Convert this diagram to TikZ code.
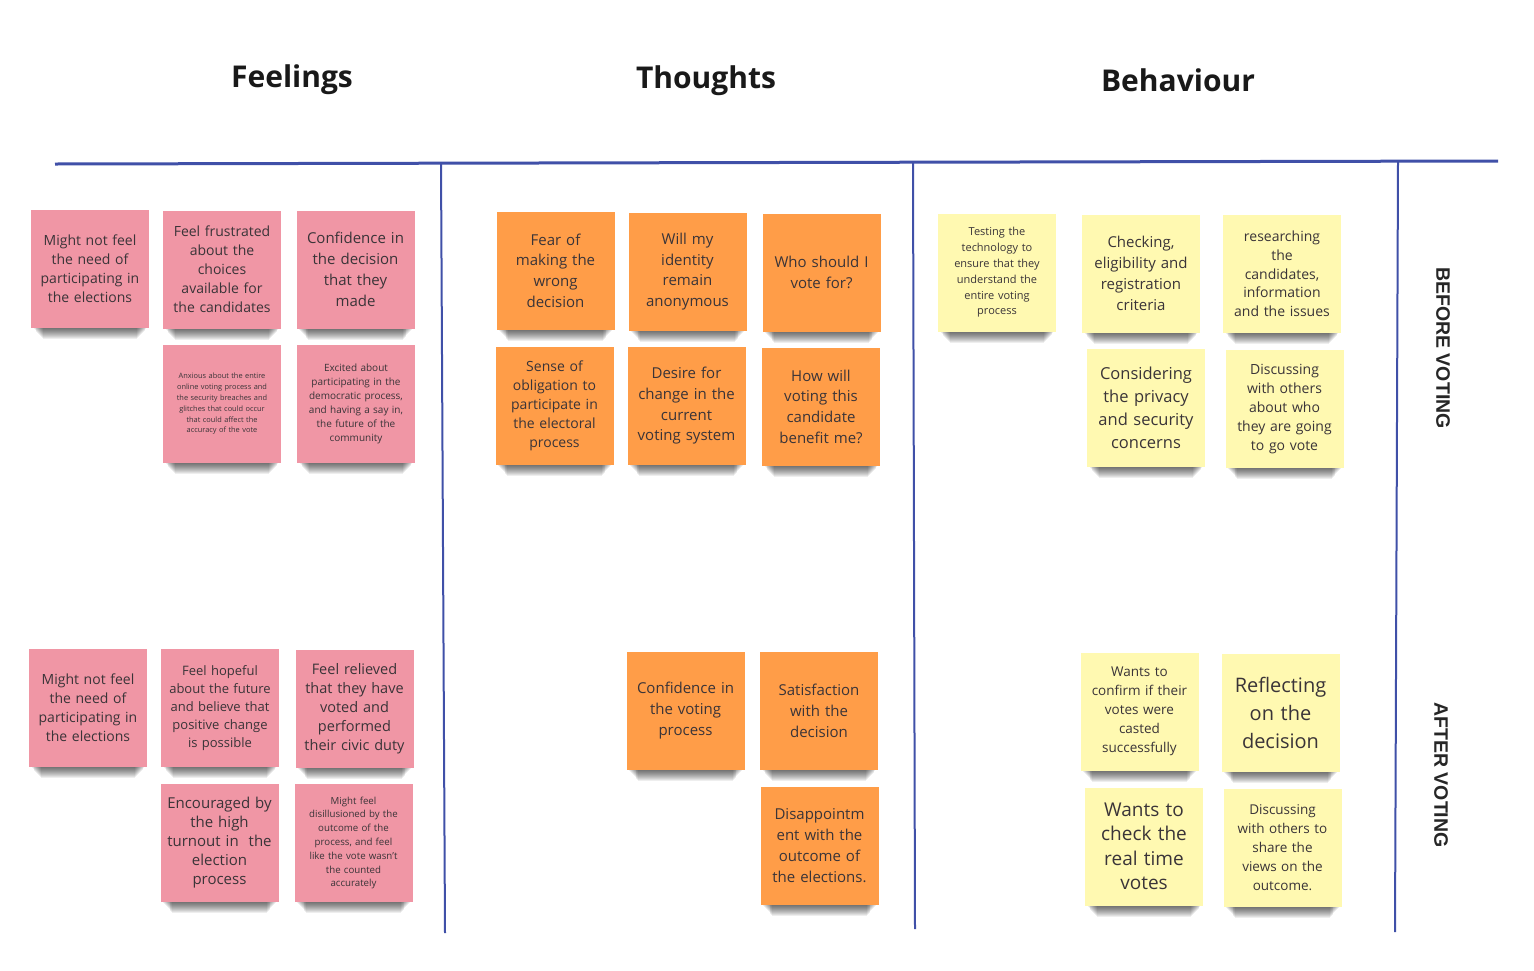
\documentclass[tikz,border=0pt]{standalone}
\usepackage{fontspec}
\setmainfont{Open Sans}
\newfontfamily\labelfont{Liberation Sans}
\usetikzlibrary{backgrounds}
\definecolor{pinkc}{RGB}{240,150,165}
\definecolor{orangec}{RGB}{255,157,72}
\definecolor{yellowc}{RGB}{255,249,177}
\definecolor{txtc}{RGB}{58,52,56}
\definecolor{linec}{RGB}{64,80,168}
\newcommand\fs[2]{\fontsize{#1}{#2}\selectfont}
\tikzset{
  sticky/.style={minimum width=118pt, minimum height=118pt, inner sep=0pt,
    text width=110pt, align=center, text=txtc},
  pinknote/.style={sticky, fill=pinkc},
  orangenote/.style={sticky, fill=orangec},
  yellownote/.style={sticky, fill=yellowc},
  heading/.style={font=\bfseries\fs{30}{36}, text=black!90},
  sidelabel/.style={font=\labelfont\bfseries\fs{19.5}{22}, text=black!85, rotate=-90},
  rule/.style={draw=linec, line width=2pt},
  shadowlayer/.style={fill=black, opacity=0.065},
}
\begin{document}
\begin{tikzpicture}[x=1pt,y=-1pt]
\useasboundingbox (0,0) rectangle (1534,970);
% headings
\node[heading] (hf) at (292,80) {Feelings};
\node[heading] (ht) at (706,81) {Thoughts};
\node[heading] (hb) at (1178,80) {Behaviour};
% lines
\coordinate (hl) at (55,164);
\coordinate (hr) at (1498,161);
\coordinate (v1t) at (441,163);
\coordinate (v1b) at (445,933);
\coordinate (v2t) at (913,162);
\coordinate (v2b) at (915,929);
\coordinate (v3t) at (1398,161);
\coordinate (v3b) at (1395,932);
\draw[rule, line width=3pt] (hl) -- (hr);
\draw[rule] (v1t) -- (v1b);
\draw[rule] (v2t) -- (v2b);
\draw[rule] (v3t) -- (v3b);
% side labels
\node[sidelabel] (before) at (1443,348) {BEFORE VOTING};
\node[sidelabel] (after) at (1441,775) {AFTER VOTING};
% Feelings
\node[pinknote, font=\fs{14}{19}] (f1) at (90,268.5) {Might not feel\\the need of\\participating in\\the elections};
\node[pinknote, font=\fs{14}{19}] (f2) at (222,269.5) {Feel frustrated\\about the\\choices\\available for\\the candidates};
\node[pinknote, font=\fs{15}{21}] (f3) at (355.5,269.5) {Confidence in\\the decision\\that they\\made};
\node[pinknote, font=\fs{7.4}{10.8}] (f4) at (222,404) {Anxious about the entire\\online voting process and\\the security breaches and\\glitches that could occur\\that could affect the\\accuracy of the vote};
\node[pinknote, font=\fs{10}{14}] (f5) at (356,404) {Excited about\\participating in the\\democratic process,\\and having a say in,\\the future of the\\community};
\node[pinknote, font=\fs{14}{19}] (f6) at (88,707.5) {Might not feel\\the need of\\participating in\\the elections};
\node[pinknote, font=\fs{13}{17.8}] (f7) at (220,708) {Feel hopeful\\about the future\\and believe that\\positive change\\is possible};
\node[pinknote, font=\fs{14.5}{19}] (f8) at (354.5,708.5) {Feel relieved\\that they have\\voted and\\performed\\their civic duty};
\node[pinknote, font=\fs{15}{19}] (f9) at (219.5,842.5) {Encouraged by\\the high\\turnout in\ \ the\\election\\process};
\node[pinknote, font=\fs{9.7}{13.8}] (f10) at (353.5,843) {Might feel\\disillusioned by the\\outcome of the\\process, and feel\\like the vote wasn’t\\the counted\\accurately};
% Thoughts
\node[orangenote, font=\fs{15}{20.7}] (t1) at (555.5,270.5) {Fear of\\making the\\wrong\\decision};
\node[orangenote, font=\fs{15}{20.7}] (t2) at (687.5,271.5) {Will my\\identity\\remain\\anonymous};
\node[orangenote, font=\fs{15}{21}] (t3) at (821.5,272.5) {Who should I\\vote for?};
\node[orangenote, font=\fs{14}{19}] (t4) at (554.5,405.5) {Sense of\\obligation to\\participate in\\the electoral\\process};
\node[orangenote, font=\fs{15}{20.7}] (t5) at (686.5,406) {Desire for\\change in the\\current\\voting system};
\node[orangenote, font=\fs{15}{20.7}] (t6) at (821,406.5) {How will\\voting this\\candidate\\benefit me?};
\node[orangenote, font=\fs{15}{21}] (t7) at (685.5,710.5) {Confidence in\\the voting\\process};
\node[orangenote, font=\fs{15}{21}] (t8) at (819,710.5) {Satisfaction\\with the\\decision};
\node[orangenote, font=\fs{15}{21}] (t9) at (819.5,845.5) {Disappointm\\ent with the\\outcome of\\the elections.};
% Behaviour
\node[yellownote, font=\fs{11}{15.8}] (b1) at (997,272.5) {Testing the\\technology to\\ensure that they\\understand the\\entire voting\\process};
\node[yellownote, font=\fs{15}{21}] (b2) at (1141,273.5) {Checking,\\eligibility and\\registration\\criteria};
\node[yellownote, font=\fs{14}{18.7}] (b3) at (1282,274) {researching\\the\\candidates,\\information\\and the issues};
\node[yellownote, font=\fs{16.5}{23}] (b4) at (1146,408) {Considering\\the privacy\\and security\\concerns};
\node[yellownote, font=\fs{14}{19}] (b5) at (1284.5,409) {Discussing\\with others\\about who\\they are going\\to go vote};
\node[yellownote, font=\fs{13.5}{19}] (b6) at (1139.5,711.5) {Wants to\\confirm if their\\votes were\\casted\\successfully};
\node[yellownote, font=\fs{20}{28}] (b7) at (1280.5,713) {Reflecting\\on the\\decision};
\node[yellownote, font=\fs{19}{24.5}] (b8) at (1144,846.5) {Wants to\\check the\\real time\\votes};
\node[yellownote, font=\fs{13.5}{19}] (b9) at (1282.5,847.5) {Discussing\\with others to\\share the\\views on the\\outcome.};
% shadows under the notes
\begin{pgfonlayer}{background}
\fill[white] (0,0) rectangle (1534,970);
\foreach \n in {f1,f2,f3,f4,f5,f6,f7,f8,f9,f10,t1,t2,t3,t4,t5,t6,t7,t8,t9,b1,b2,b3,b4,b5,b6,b7,b8,b9}{
  \foreach \k in {1,...,11}{
    \fill[shadowlayer] ([xshift={2+\k*0.9}, yshift=4]\n.south west) rectangle ([xshift={-2-\k*0.9}, yshift={-\k}]\n.south east);
  }
}
\end{pgfonlayer}
\end{tikzpicture}
\end{document}
